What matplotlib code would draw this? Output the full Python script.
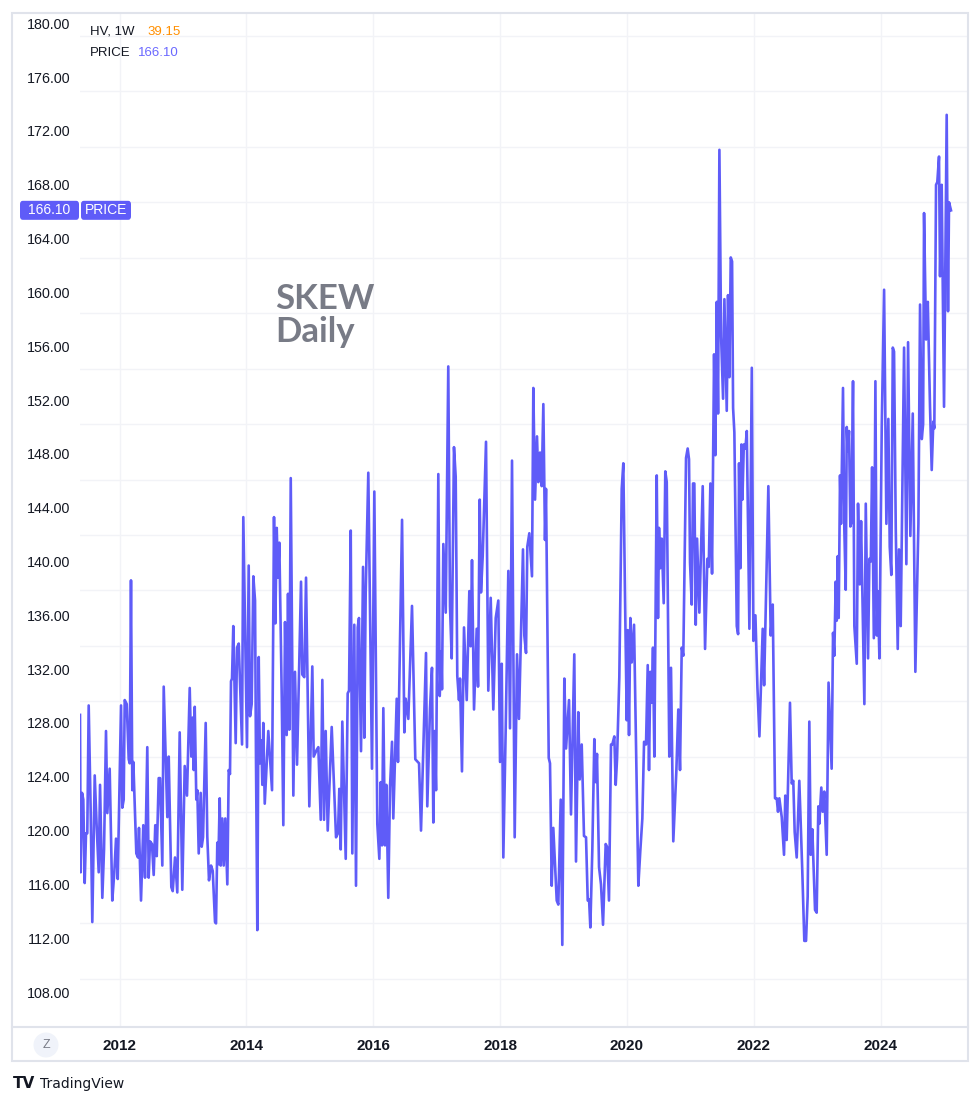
import matplotlib
matplotlib.use("Agg")
import matplotlib.pyplot as plt
from matplotlib.patches import Rectangle, Ellipse, FancyBboxPatch
from matplotlib.lines import Line2D
import numpy as np

# weekly SKEW closes (decimal year, value)
dates = [
    2011.377, 2011.388, 2011.409, 2011.429, 2011.451, 2011.472, 2011.492, 2011.514, 2011.546, 2011.571,
    2011.609, 2011.640, 2011.672, 2011.693, 2011.729, 2011.756, 2011.787, 2011.808, 2011.845, 2011.886,
    2011.918, 2011.945, 2011.972, 2012.024, 2012.044, 2012.066, 2012.082, 2012.114, 2012.145, 2012.161,
    2012.181, 2012.202, 2012.218, 2012.265, 2012.292, 2012.307, 2012.339, 2012.375, 2012.402, 2012.438,
    2012.460, 2012.481, 2012.512, 2012.539, 2012.564, 2012.587, 2012.618, 2012.639, 2012.675, 2012.697,
    2012.754, 2012.776, 2012.817, 2012.839, 2012.875, 2012.911, 2012.949, 2012.990, 2013.028, 2013.064,
    2013.107, 2013.132, 2013.154, 2013.170, 2013.186, 2013.211, 2013.227, 2013.249, 2013.280, 2013.296,
    2013.317, 2013.359, 2013.384, 2013.411, 2013.443, 2013.470, 2013.506, 2013.522, 2013.542, 2013.558,
    2013.580, 2013.596, 2013.621, 2013.643, 2013.668, 2013.700, 2013.722, 2013.742, 2013.758, 2013.774,
    2013.794, 2013.810, 2013.832, 2013.853, 2013.880, 2013.932, 2013.952, 2013.979, 2014.010, 2014.037,
    2014.058, 2014.084, 2014.110, 2014.137, 2014.152, 2014.173, 2014.195, 2014.215, 2014.236, 2014.252,
    2014.267, 2014.290, 2014.346, 2014.405, 2014.436, 2014.457, 2014.479, 2014.499, 2014.520, 2014.558,
    2014.583, 2014.610, 2014.636, 2014.657, 2014.677, 2014.700, 2014.741, 2014.767, 2014.799, 2014.862,
    2014.882, 2014.914, 2014.941, 2014.993, 2015.040, 2015.062, 2015.109, 2015.135, 2015.173, 2015.198,
    2015.225, 2015.251, 2015.283, 2015.346, 2015.414, 2015.445, 2015.466, 2015.488, 2015.513, 2015.567,
    2015.598, 2015.619, 2015.646, 2015.671, 2015.702, 2015.729, 2015.756, 2015.776, 2015.808, 2015.840,
    2015.860, 2015.882, 2015.923, 2015.981, 2016.018, 2016.065, 2016.097, 2016.119, 2016.139, 2016.160,
    2016.186, 2016.207, 2016.238, 2016.265, 2016.297, 2016.317, 2016.371, 2016.391, 2016.455, 2016.491,
    2016.513, 2016.554, 2016.612, 2016.664, 2016.723, 2016.754, 2016.833, 2016.853, 2016.896, 2016.927,
    2016.948, 2016.970, 2016.991, 2017.027, 2017.049, 2017.074, 2017.085, 2017.106, 2017.144, 2017.184,
    2017.211, 2017.238, 2017.274, 2017.301, 2017.326, 2017.353, 2017.369, 2017.400, 2017.432, 2017.475,
    2017.516, 2017.538, 2017.558, 2017.590, 2017.632, 2017.653, 2017.680, 2017.700, 2017.727, 2017.779,
    2017.815, 2017.853, 2017.894, 2017.932, 2017.973, 2018.000, 2018.027, 2018.052, 2018.090, 2018.131,
    2018.157, 2018.189, 2018.231, 2018.268, 2018.299, 2018.362, 2018.383, 2018.410, 2018.430, 2018.462,
    2018.504, 2018.525, 2018.552, 2018.583, 2018.604, 2018.631, 2018.657, 2018.683, 2018.709, 2018.725,
    2018.768, 2018.788, 2018.815, 2018.840, 2018.894, 2018.919, 2018.957, 2018.982, 2019.014, 2019.041,
    2019.088, 2019.119, 2019.171, 2019.198, 2019.234, 2019.256, 2019.288, 2019.324, 2019.356, 2019.383,
    2019.404, 2019.424, 2019.455, 2019.487, 2019.509, 2019.529, 2019.561, 2019.592, 2019.624, 2019.666,
    2019.687, 2019.718, 2019.750, 2019.770, 2019.802, 2019.824, 2019.845, 2019.881, 2019.919, 2019.944,
    2019.971, 2019.998, 2020.014, 2020.034, 2020.055, 2020.077, 2020.113, 2020.181, 2020.212, 2020.244,
    2020.271, 2020.302, 2020.329, 2020.349, 2020.370, 2020.392, 2020.412, 2020.433, 2020.471, 2020.491,
    2020.507, 2020.527, 2020.550, 2020.581, 2020.606, 2020.629, 2020.669, 2020.696, 2020.732, 2020.780,
    2020.811, 2020.838, 2020.865, 2020.890, 2020.933, 2020.959, 2020.980, 2020.996, 2021.023, 2021.043,
    2021.064, 2021.086, 2021.107, 2021.143, 2021.196, 2021.233, 2021.269, 2021.291, 2021.317, 2021.343,
    2021.375, 2021.395, 2021.418, 2021.438, 2021.459, 2021.486, 2021.517, 2021.538, 2021.575, 2021.595,
    2021.616, 2021.638, 2021.659, 2021.675, 2021.695, 2021.733, 2021.754, 2021.769, 2021.790, 2021.806,
    2021.822, 2021.844, 2021.869, 2021.891, 2021.932, 2021.970, 2021.995, 2022.027, 2022.059, 2022.090,
    2022.142, 2022.164, 2022.231, 2022.268, 2022.300, 2022.336, 2022.363, 2022.383, 2022.404, 2022.442,
    2022.478, 2022.498, 2022.520, 2022.572, 2022.599, 2022.624, 2022.646, 2022.678, 2022.719, 2022.766,
    2022.798, 2022.825, 2022.851, 2022.877, 2022.899, 2022.924, 2022.967, 2022.993, 2023.019, 2023.034,
    2023.066, 2023.088, 2023.113, 2023.151, 2023.180, 2023.229, 2023.251, 2023.271, 2023.293, 2023.309,
    2023.325, 2023.340, 2023.361, 2023.377, 2023.408, 2023.429, 2023.451, 2023.467, 2023.482, 2023.503,
    2023.524, 2023.540, 2023.566, 2023.587, 2023.625, 2023.645, 2023.672, 2023.693, 2023.745, 2023.767,
    2023.803, 2023.824, 2023.846, 2023.867, 2023.894, 2023.919, 2023.941, 2023.957, 2023.982, 2024.019,
    2024.056, 2024.092, 2024.123, 2024.145, 2024.170, 2024.193, 2024.213, 2024.240, 2024.271, 2024.291,
    2024.318, 2024.371, 2024.407, 2024.434, 2024.470, 2024.508, 2024.549, 2024.597, 2024.623, 2024.650,
    2024.671, 2024.686, 2024.718, 2024.745, 2024.780, 2024.807, 2024.832, 2024.848, 2024.875, 2024.895,
    2024.922, 2024.938, 2024.964, 2025.001, 2025.043, 2025.064, 2025.080, 2025.111,
]
skew = [
    128.6, 116.9, 122.8, 122.3, 116.1, 119.8, 119.8, 129.3, 121.3, 113.2,
    124.1, 120.3, 116.9, 123.4, 115.0, 118.6, 127.4, 121.3, 124.6, 114.8,
    116.9, 119.4, 116.4, 129.3, 121.7, 122.3, 129.7, 129.4, 125.3, 125.0,
    138.6, 123.0, 125.1, 118.3, 118.0, 120.2, 114.8, 120.4, 116.5, 126.2,
    116.5, 119.2, 119.0, 116.7, 120.4, 118.1, 123.9, 123.9, 117.4, 130.7,
    121.0, 125.5, 115.8, 115.5, 118.0, 115.4, 127.3, 115.6, 124.8, 122.6,
    130.6, 125.5, 128.4, 124.5, 129.2, 122.3, 123.0, 118.3, 122.8, 118.8,
    119.5, 128.0, 119.6, 116.3, 117.4, 117.0, 113.2, 113.1, 119.1, 117.5,
    122.4, 117.4, 120.9, 117.4, 120.9, 116.0, 124.5, 124.2, 131.1, 131.3,
    135.2, 131.5, 126.5, 133.6, 133.9, 126.4, 143.3, 135.2, 126.2, 139.7,
    128.5, 129.4, 138.9, 137.1, 125.3, 112.6, 132.9, 125.0, 126.7, 123.4,
    128.0, 122.0, 127.4, 123.0, 143.3, 135.4, 142.5, 138.8, 141.4, 130.0,
    120.4, 135.5, 127.1, 137.6, 127.5, 146.2, 122.6, 131.8, 124.9, 138.5,
    131.6, 131.4, 138.8, 121.8, 132.2, 125.5, 126.0, 126.2, 120.8, 131.2,
    120.8, 127.4, 120.0, 127.7, 119.5, 119.8, 123.1, 118.6, 128.1, 117.9,
    130.2, 130.4, 142.3, 118.3, 135.3, 115.9, 135.1, 135.8, 125.9, 139.6,
    126.9, 137.7, 146.6, 124.6, 145.2, 120.5, 117.9, 123.6, 118.9, 129.1,
    118.9, 123.4, 115.0, 123.2, 126.6, 120.9, 129.8, 125.1, 143.1, 127.3,
    129.8, 128.3, 136.7, 125.3, 125.0, 120.0, 133.2, 121.8, 129.1, 132.1,
    120.6, 127.4, 123.0, 146.5, 130.0, 133.3, 130.5, 141.3, 136.2, 154.5,
    136.7, 132.8, 148.5, 146.3, 131.5, 129.7, 131.3, 124.4, 135.1, 129.7,
    137.8, 133.7, 140.1, 129.0, 135.0, 130.7, 144.6, 137.7, 140.4, 148.9,
    130.4, 137.3, 129.0, 135.8, 137.1, 125.1, 132.4, 118.0, 127.7, 139.3,
    127.6, 147.5, 119.5, 133.1, 128.3, 140.9, 134.5, 133.2, 141.1, 142.1,
    138.9, 152.9, 144.6, 149.3, 145.9, 148.1, 145.6, 151.7, 141.6, 145.4,
    125.4, 125.0, 115.9, 120.2, 114.8, 114.5, 122.3, 111.5, 131.3, 126.1,
    129.7, 121.2, 133.1, 117.7, 128.8, 123.8, 126.4, 119.6, 119.5, 114.8,
    114.9, 112.8, 118.5, 126.8, 123.6, 125.7, 117.3, 116.0, 113.0, 119.0,
    118.8, 114.8, 126.4, 126.4, 127.0, 123.4, 125.3, 131.4, 145.4, 147.3,
    137.3, 128.2, 134.9, 127.1, 135.8, 132.5, 135.3, 115.9, 118.5, 120.9,
    126.6, 126.4, 132.3, 124.5, 131.8, 129.5, 133.6, 125.5, 146.4, 135.8,
    142.5, 139.5, 141.7, 136.9, 146.7, 145.9, 125.5, 132.1, 119.2, 124.4,
    129.0, 124.5, 133.6, 133.0, 147.7, 148.4, 147.6, 139.9, 136.8, 145.8,
    145.8, 135.3, 141.7, 136.2, 145.6, 133.5, 140.2, 139.6, 145.8, 139.1,
    155.4, 147.9, 159.3, 151.0, 170.6, 156.7, 152.1, 159.5, 151.2, 159.8,
    153.7, 162.6, 162.3, 151.4, 149.6, 135.2, 134.6, 147.3, 139.5, 148.7,
    144.6, 148.7, 148.4, 149.7, 135.0, 154.4, 134.1, 136.0, 130.6, 127.0,
    135.0, 130.8, 145.6, 134.5, 136.8, 122.4, 122.4, 121.4, 122.4, 121.0,
    118.2, 122.6, 119.3, 129.5, 123.5, 123.7, 119.9, 118.0, 123.7, 117.0,
    111.8, 111.8, 115.1, 128.1, 118.2, 120.1, 114.1, 113.9, 121.8, 120.5,
    123.2, 121.4, 122.9, 118.2, 131.0, 124.6, 134.7, 133.0, 138.5, 135.6,
    140.4, 135.8, 146.4, 142.8, 152.9, 142.4, 137.9, 150.0, 148.2, 149.7,
    142.6, 142.9, 153.4, 135.2, 132.4, 144.3, 138.3, 143.0, 129.4, 144.3,
    132.8, 140.2, 140.0, 147.0, 134.3, 153.4, 134.5, 137.8, 132.8, 150.0,
    160.2, 142.8, 150.6, 141.1, 139.0, 155.9, 155.6, 142.4, 133.5, 140.9,
    135.2, 155.9, 139.8, 156.3, 141.9, 151.0, 131.8, 142.8, 159.1, 149.1,
    150.2, 165.9, 156.5, 159.3, 151.5, 146.8, 150.4, 149.9, 168.0, 168.2,
    170.1, 161.2, 168.0, 151.5, 173.2, 158.6, 166.7, 166.1,
]

year_ticks = [2012, 2014, 2016, 2018, 2020, 2022, 2024]
price_ticks = list(range(108, 181, 4))
hv_value = "39.15"
last_price = skew[-1]

W, H = 971, 1106
LINE = "#5f5cf8"
TXT = "#131722"
GRID = "#f2f3f7"
BORDER = "#e0e3eb"


def fx(x):
    return x / W


def fy(y):
    return 1 - y / H


fig = plt.figure(figsize=(W / 100, H / 100), dpi=100)
fig.patch.set_facecolor("white")
ax = fig.add_axes([fx(80), fy(1027), (968 - 80) / W, (1027 - 13) / H])
ax.set_facecolor("white")

ax.set_xlim(2011.377, 2025.379)
ax.set_ylim(105.40, 180.77)

# grid: vertical on year ticks, horizontal from the (hidden) HV scale
for yr in year_ticks:
    ax.axvline(yr, color=GRID, lw=1, zorder=0)
for k in range(18):
    ax.axhline(179.06 - 4.121 * k, color=GRID, lw=1, zorder=0)

ax.plot(dates, skew, color=LINE, lw=1.9, solid_joinstyle="round", zorder=3)

for s in ax.spines.values():
    s.set_visible(False)

ax.set_xticks(year_ticks)
ax.set_xticklabels([str(y) for y in year_ticks], fontsize=11, fontweight="bold",
                   color=TXT, family="Liberation Sans")
ax.set_yticks(price_ticks)
ax.set_yticklabels(["%.2f" % v for v in price_ticks], fontsize=10.3, color=TXT,
                   family="Liberation Sans")
ax.tick_params(axis="x", length=0, pad=8.5)
ax.tick_params(axis="y", length=0, pad=7)

# frame and time-axis separator
fig.add_artist(Rectangle((fx(12), fy(1061)), (968 - 12) / W, (1061 - 13) / H,
                         transform=fig.transFigure, fill=False, ec=BORDER, lw=1.5))
fig.add_artist(Line2D([fx(12), fx(968)], [fy(1027), fy(1027)],
                      transform=fig.transFigure, color=BORDER, lw=1.5))

# legend
fig.text(fx(90), fy(32), "HV, 1W", fontsize=9.5, color=TXT, va="center",
         family="Liberation Sans")
fig.text(fx(147), fy(32), hv_value, fontsize=9.5, color="#ff8f00", va="center",
         family="Liberation Sans")
fig.text(fx(90), fy(53), "PRICE", fontsize=9.5, color=TXT, va="center",
         family="Liberation Sans")
fig.text(fx(138), fy(53), "%.2f" % last_price, fontsize=9.5, color="#6a68ff",
         va="center", family="Liberation Sans")

# last price tag on the price scale
yp = fy(23.3 + (180 - last_price) * 13.455)
fig.add_artist(FancyBboxPatch((fx(20), yp - 9.5 / H), 59 / W, 19 / H,
                              boxstyle="round,pad=0,rounding_size=0.003",
                              transform=fig.transFigure, fc=LINE, ec="none"))
fig.add_artist(FancyBboxPatch((fx(81), yp - 9.5 / H), 50 / W, 19 / H,
                              boxstyle="round,pad=0,rounding_size=0.003",
                              transform=fig.transFigure, fc=LINE, ec="none"))
fig.text(fx(49.5), yp, "%.2f" % last_price, fontsize=10, color="white",
         ha="center", va="center", family="Liberation Sans")
fig.text(fx(106), yp, "PRICE", fontsize=10, color="white", ha="center",
         va="center", family="Liberation Sans")

# watermark title
fig.text(fx(275), fy(309), "SKEW", fontsize=25, fontweight="bold",
         color="#787b86", family="Lato")
fig.text(fx(275), fy(342), "Daily", fontsize=25, fontweight="bold",
         color="#787b86", family="Lato")

# "Z" button on the time axis
fig.add_artist(Ellipse((fx(46), fy(1045)), 25 / W, 25 / H,
                       transform=fig.transFigure, fc="#f0f3fa", ec="none"))
fig.text(fx(46), fy(1045), "Z", fontsize=9, color="#787b86", ha="center",
         va="center", family="Liberation Sans")

# TradingView branding
fig.text(fx(13), fy(1084), "TV", fontsize=11, fontweight="heavy", color=TXT,
         va="center", family="DejaVu Sans")
fig.text(fx(40), fy(1084), "TradingView", fontsize=10, color=TXT,
         va="center", family="DejaVu Sans")

fig.savefig("out.png", dpi=100, facecolor="white")
